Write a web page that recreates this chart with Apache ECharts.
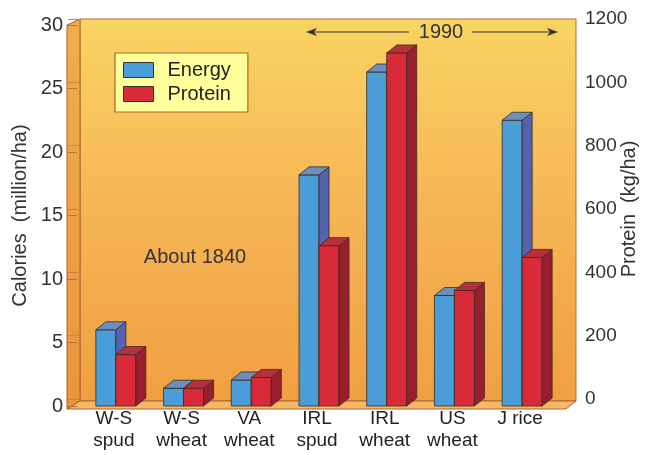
<!DOCTYPE html>
<html>
<head>
<meta charset="utf-8">
<script src="https://cdn.jsdelivr.net/npm/echarts@6/dist/echarts.min.js"></script>
<style>
html, body { margin: 0; padding: 0; background: #fff; }
#main { width: 646px; height: 455px; }
</style>
</head>
<body>
<div id="main"></div>
<script>
var categories = ['W-S\nspud', 'W-S\nwheat', 'VA\nwheat', 'IRL\nspud', 'IRL\nwheat', 'US\nwheat', 'J rice'];
var energy = [6.0, 1.4, 2.05, 18.2, 26.3, 8.7, 22.5];      // million cal / ha
var protein = [162, 56, 90, 505, 1112, 364, 468];          // kg / ha
var calorieTicks = { min: 0, max: 30, step: 5 };
var proteinTicks = { min: 0, max: 1200, step: 200 };

var chartDom = document.getElementById('main');
var myChart = echarts.init(chartDom, null, { renderer: 'canvas' });
var font = 'Liberation Sans, Arial, sans-serif';

// fake 3d bar: front face + side + top
function bar3d(shift, front, side, top) {
  return function (params, api) {
    var x = api.value(0);
    var base = api.coord([x, 0]);
    var tip = api.coord([x, api.value(1)]);
    var w = 20, dx = 10, dy = 8;
    var x0 = base[0] + shift, x1 = x0 + w;
    var y0 = tip[1], y1 = base[1];
    var st = { stroke: '#3b2a22', lineWidth: 0.8 };
    return {
      type: 'group',
      children: [
        { type: 'rect', shape: { x: x0, y: y0, width: w, height: y1 - y0 },
          style: Object.assign({ fill: front }, st) },
        { type: 'polygon', shape: { points: [[x1, y0], [x1 + dx, y0 - dy], [x1 + dx, y1 - dy], [x1, y1]] },
          style: Object.assign({ fill: side }, st) },
        { type: 'polygon', shape: { points: [[x0, y0], [x0 + dx, y0 - dy], [x1 + dx, y0 - dy], [x1, y0]] },
          style: Object.assign({ fill: top }, st) }
      ]
    };
  };
}

function plain(v) { return String(v); }

var option = {
  animation: false,
  textStyle: { fontFamily: font },
  grid: [
    { left: 80, right: 92, top: 25, bottom: 49, outerBoundsMode: 'none' },
    { left: 80, right: 70, top: 19, bottom: 56, outerBoundsMode: 'none' }
  ],
  legend: {
    orient: 'vertical',
    left: 115,
    top: 53,
    padding: [7, 17, 8, 8],
    itemGap: 4,
    itemWidth: 30,
    itemHeight: 15,
    backgroundColor: '#ffff9c',
    borderColor: '#a8682c',
    borderWidth: 1.2,
    textStyle: { fontSize: 20, color: '#222', padding: [0, 0, 0, 9] },
    data: [
      { name: 'Energy', icon: 'rect', itemStyle: { color: '#4a9dd6', borderColor: '#333', borderWidth: 1 } },
      { name: 'Protein', icon: 'rect', itemStyle: { color: '#d92a3a', borderColor: '#333', borderWidth: 1 } }
    ]
  },
  xAxis: [
    {
      type: 'category',
      gridIndex: 0,
      data: categories,
      axisLine: { show: false },
      axisTick: { show: false },
      axisLabel: { fontSize: 19, color: '#222', lineHeight: 22, margin: 2 }
    },
    { type: 'value', gridIndex: 1, min: 0, max: 1, show: false }
  ],
  yAxis: [
    {
      type: 'value',
      gridIndex: 0,
      position: 'left',
      offset: 13,
      min: calorieTicks.min,
      max: calorieTicks.max,
      interval: calorieTicks.step,
      name: 'Calories  (million/ha)',
      nameLocation: 'middle',
      nameGap: 37,
      nameMoveOverlap: false,
      nameTextStyle: { fontSize: 20, color: '#333' },
      axisLine: { show: false },
      axisTick: { show: true, inside: true, length: 10, lineStyle: { color: '#b9742e' } },
      axisLabel: { fontSize: 20, color: '#333', margin: 4, formatter: plain },
      splitLine: { show: false },
      z: 5
    },
    {
      type: 'value',
      gridIndex: 0,
      min: proteinTicks.min,
      max: proteinTicks.max,
      show: false
    },
    {
      type: 'value',
      gridIndex: 1,
      position: 'right',
      min: proteinTicks.min,
      max: proteinTicks.max,
      interval: proteinTicks.step,
      name: 'Protein  (kg/ha)',
      nameLocation: 'middle',
      nameGap: 43,
      nameMoveOverlap: false,
      nameTextStyle: { fontSize: 20, color: '#333' },
      axisLine: { show: false },
      axisTick: { show: true, inside: true, length: 12, lineStyle: { color: '#c9863c' } },
      axisLabel: { fontSize: 19, color: '#333', margin: 9, formatter: plain },
      splitLine: { show: false },
      z: 5
    }
  ],
  graphic: [
    // back wall
    { type: 'rect', z: -1, shape: { x: 80, y: 19, width: 496, height: 382 },
      style: { stroke: '#b06f30', lineWidth: 1,
        fill: new echarts.graphic.LinearGradient(0, 0, 0, 1, [
          { offset: 0, color: '#f9d462' },
          { offset: 0.5, color: '#f5b555' },
          { offset: 1, color: '#f09f42' }
        ]) } },
    // left wall
    { type: 'polygon', z: -1, shape: { points: [[67, 25], [80, 19], [80, 401], [67, 409]] },
      style: { stroke: '#a8652a', lineWidth: 1,
        fill: new echarts.graphic.LinearGradient(0, 0, 0, 1, [
          { offset: 0, color: '#f1ad4c' },
          { offset: 1, color: '#e9953c' }
        ]) } },
    // floor
    { type: 'polygon', z: -1, shape: { points: [[67, 409], [80, 401], [576, 401], [566, 409]] },
      style: { fill: '#f6b868', stroke: '#a8652a', lineWidth: 1 } },
    // annotations
    { type: 'text', z: 10, x: 195, y: 257,
      style: { text: 'About 1840', font: '20px ' + font, fill: '#333', align: 'center', verticalAlign: 'middle' } },
    { type: 'text', z: 10, x: 441, y: 32,
      style: { text: '1990', font: '20px ' + font, fill: '#333', align: 'center', verticalAlign: 'middle' } },
    { type: 'line', z: 10, shape: { x1: 310, y1: 32, x2: 409, y2: 32 }, style: { stroke: '#333', lineWidth: 1.2 } },
    { type: 'line', z: 10, shape: { x1: 472, y1: 32, x2: 553, y2: 32 }, style: { stroke: '#333', lineWidth: 1.2 } },
    { type: 'polygon', z: 10, shape: { points: [[306, 32], [317, 28], [314, 32], [317, 36]] }, style: { fill: '#333' } },
    { type: 'polygon', z: 10, shape: { points: [[558, 32], [547, 28], [550, 32], [547, 36]] }, style: { fill: '#333' } }
  ],
  series: [
    {
      name: 'Energy',
      type: 'custom',
      xAxisIndex: 0,
      yAxisIndex: 0,
      itemStyle: { color: '#4a9dd6' },
      renderItem: bar3d(-18, '#4a9dd6', '#5363b0', '#6d8fbd'),
      encode: { x: 0, y: 1 },
      data: energy.map(function (v, i) { return [i, v]; }),
      z: 3
    },
    {
      name: 'Protein',
      type: 'custom',
      xAxisIndex: 0,
      yAxisIndex: 1,
      itemStyle: { color: '#d92a3a' },
      renderItem: bar3d(2, '#d92a3a', '#9a1f2e', '#b8303c'),
      encode: { x: 0, y: 1 },
      data: protein.map(function (v, i) { return [i, v]; }),
      z: 4
    }
  ]
};

option && myChart.setOption(option);
</script>
</body>
</html>
